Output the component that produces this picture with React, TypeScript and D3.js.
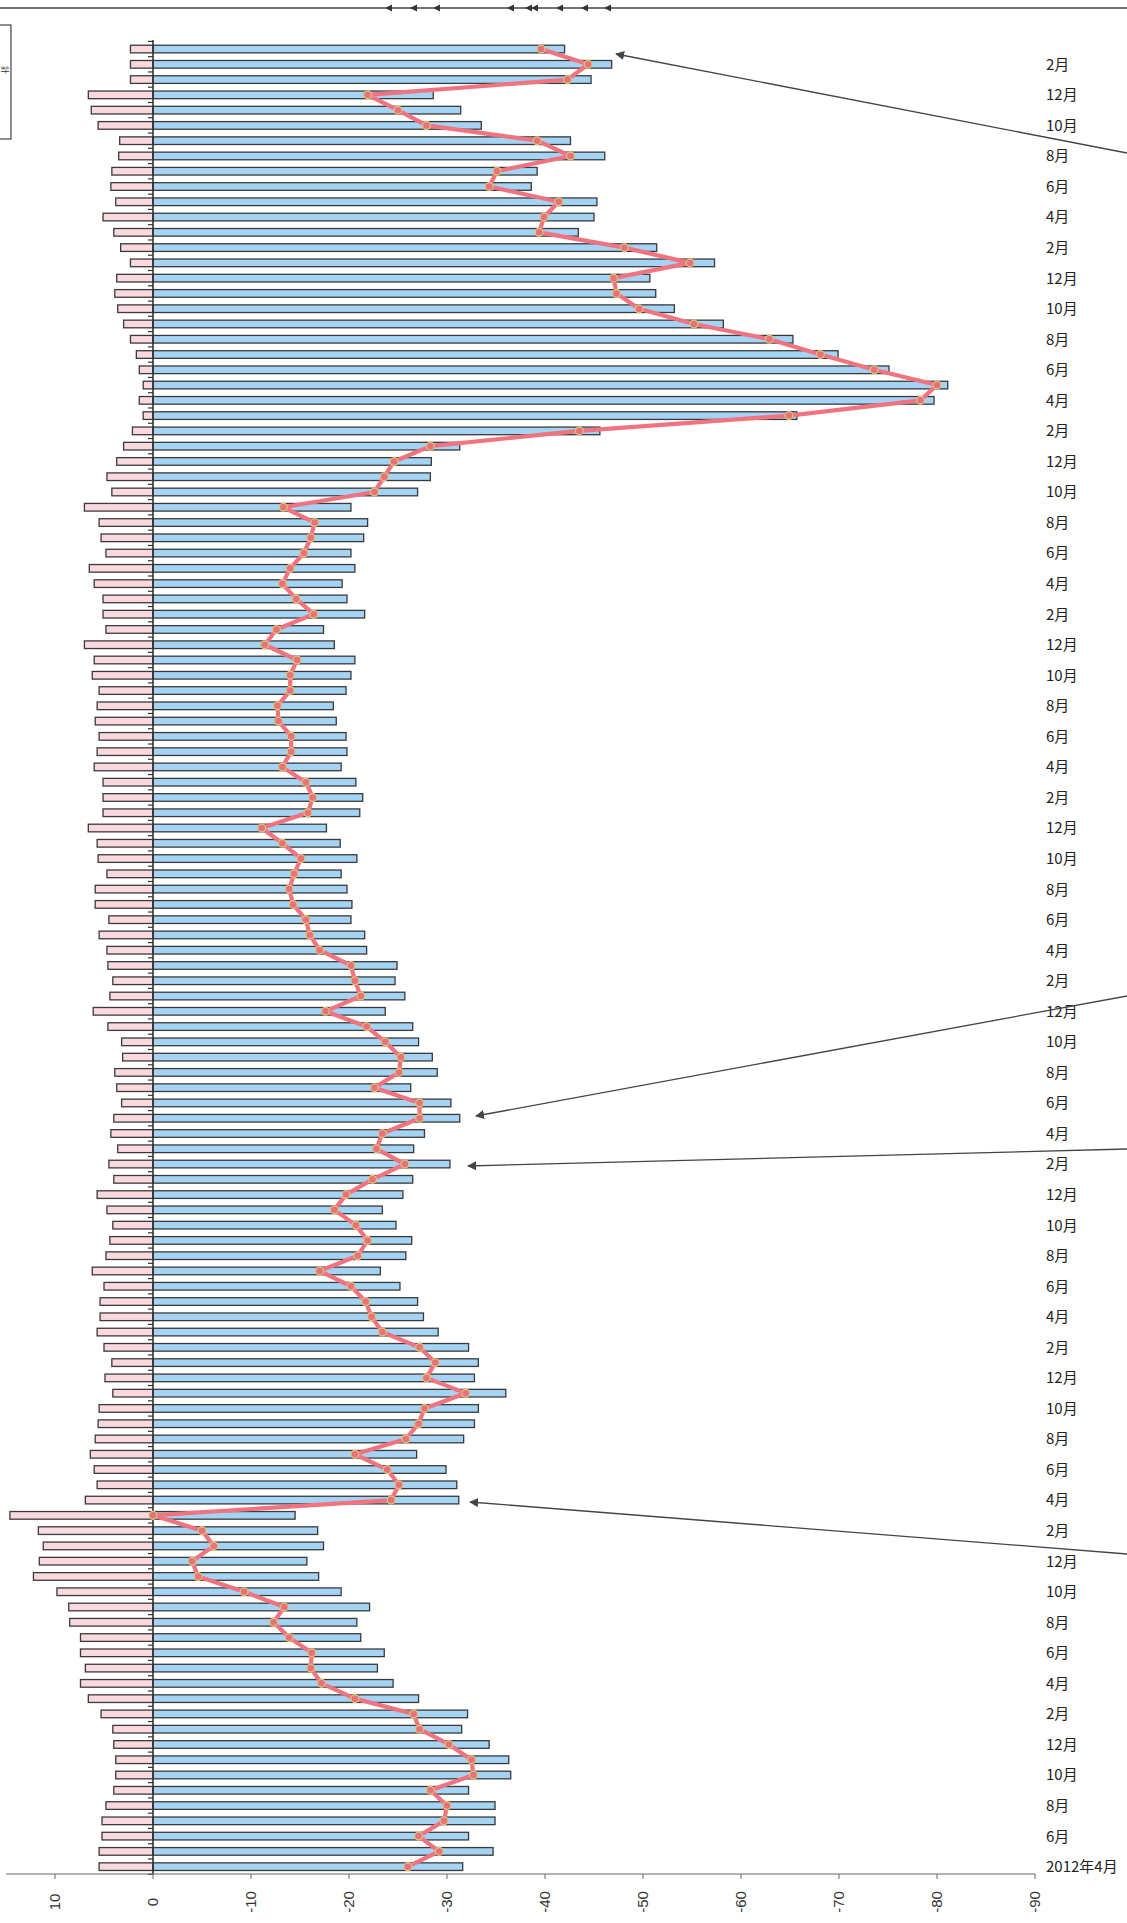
import { useEffect, useRef } from "react";
import * as d3 from "d3";

const WIDTH = 1127;
const HEIGHT = 1923;

// monthly categories: 2012年4月 .. 2022年3月
const startMonth = new Date(2012, 3, 1);
const endMonth = new Date(2022, 3, 1);

// right side labels, one every two months (from 2012年4月)
const monthLabels = [
  "2012年4月", "6月", "8月", "10月", "12月", "2月",
  "4月", "6月", "8月", "10月", "12月", "2月",
  "4月", "6月", "8月", "10月", "12月", "2月",
  "4月", "6月", "8月", "10月", "12月", "2月",
  "4月", "6月", "8月", "10月", "12月", "2月",
  "4月", "6月", "8月", "10月", "12月", "2月",
  "4月", "6月", "8月", "10月", "12月", "2月",
  "4月", "6月", "8月", "10月", "12月", "2月",
  "4月", "6月", "8月", "10月", "12月", "2月",
  "4月", "6月", "8月", "10月", "12月", "2月",
];

const valueTicks = [10, 0, -10, -20, -30, -40, -50, -60, -70, -80, -90];

// pink bars (positive side), oldest first
const plusValues = [
  5.5, 5.5, 5.2, 5.2, 4.8, 4.0, 3.8, 3.8, 4.0, 4.1,
  5.3, 6.6, 7.4, 6.9, 7.4, 7.4, 8.5, 8.6, 9.8, 12.2,
  11.6, 11.2, 11.7, 14.6, 6.9, 5.7, 6.0, 6.4, 5.9, 5.6,
  5.5, 4.1, 4.9, 4.2, 5.0, 5.7, 5.4, 5.4, 5.0, 6.2,
  4.8, 4.4, 4.1, 4.7, 5.7, 4.0, 4.5, 3.6, 4.3, 4.0,
  3.2, 3.7, 3.9, 3.1, 3.2, 4.6, 6.1, 4.4, 4.1, 4.6,
  4.7, 5.5, 4.5, 5.9, 5.9, 4.7, 5.6, 5.7, 6.6, 5.1,
  5.1, 5.1, 6.0, 5.7, 5.5, 5.9, 5.7, 5.5, 6.2, 6.0,
  7.0, 4.8, 5.1, 5.1, 6.0, 6.5, 4.8, 5.3, 5.5, 7.0,
  4.2, 4.7, 3.7, 3.0, 2.1, 1.0, 1.4, 1.0, 1.4, 1.7,
  2.3, 3.0, 3.6, 3.9, 3.7, 2.3, 3.3, 4.0, 5.1, 3.8,
  4.3, 4.2, 3.5, 3.4, 5.6, 6.3, 6.6, 2.3, 2.3, 2.3,
];

// blue bars (negative side), oldest first
const minusValues = [
  -31.6, -34.7, -32.2, -34.9, -34.9, -32.2, -36.5, -36.3, -34.3, -31.5,
  -32.1, -27.1, -24.5, -22.9, -23.6, -21.2, -20.8, -22.1, -19.2, -16.9,
  -15.7, -17.4, -16.8, -14.5, -31.2, -31.0, -29.9, -26.9, -31.7, -32.8,
  -33.2, -36.0, -32.8, -33.2, -32.2, -29.1, -27.6, -27.0, -25.2, -23.2,
  -25.8, -26.4, -24.8, -23.4, -25.5, -26.5, -30.3, -26.6, -27.7, -31.3,
  -30.4, -26.3, -29.0, -28.5, -27.1, -26.5, -23.7, -25.7, -24.7, -24.9,
  -21.8, -21.6, -20.2, -20.3, -19.8, -19.2, -20.8, -19.1, -17.7, -21.1,
  -21.4, -20.7, -19.2, -19.8, -19.7, -18.7, -18.4, -19.7, -20.2, -20.6,
  -18.5, -17.4, -21.6, -19.8, -19.3, -20.6, -20.2, -21.5, -21.9, -20.2,
  -27.0, -28.3, -28.4, -31.3, -45.6, -65.7, -79.7, -81.1, -75.1, -69.9,
  -65.3, -58.2, -53.2, -51.3, -50.7, -57.3, -51.4, -43.4, -45.0, -45.3,
  -38.6, -39.2, -46.1, -42.6, -33.5, -31.4, -28.6, -44.7, -46.8, -42.0,
];

// red line (balance), oldest first
const netValues = [
  -26.0, -29.2, -27.1, -29.7, -30.0, -28.3, -32.7, -32.5, -30.2, -27.2,
  -26.6, -20.6, -17.2, -16.1, -16.2, -13.9, -12.3, -13.4, -9.3, -4.6,
  -4.0, -6.2, -5.0, 0.0, -24.3, -25.1, -23.9, -20.6, -25.8, -27.1,
  -27.7, -31.9, -27.9, -28.8, -27.2, -23.4, -22.3, -21.7, -20.2, -17.0,
  -20.9, -21.9, -20.7, -18.5, -19.7, -22.4, -25.7, -22.8, -23.4, -27.2,
  -27.2, -22.6, -25.1, -25.3, -23.7, -21.8, -17.6, -21.2, -20.6, -20.2,
  -17.0, -16.0, -15.6, -14.3, -13.9, -14.4, -15.1, -13.2, -11.1, -15.8,
  -16.3, -15.6, -13.2, -14.1, -14.1, -12.8, -12.7, -14.0, -14.0, -14.7,
  -11.4, -12.6, -16.4, -14.6, -13.2, -14.0, -15.4, -16.1, -16.5, -13.3,
  -22.6, -23.6, -24.6, -28.3, -43.5, -64.9, -78.3, -80.0, -73.6, -68.1,
  -62.9, -55.2, -49.6, -47.3, -47.0, -54.8, -48.1, -39.4, -39.9, -41.4,
  -34.3, -35.1, -42.6, -39.2, -27.9, -25.0, -21.9, -42.3, -44.4, -39.6,
];

// annotation arrows coming in from the right edge (pixel positions)
const annotationArrows = [
  { from: [1127, 153], to: [616, 54] },
  { from: [1127, 996], to: [476, 1116] },
  { from: [1127, 1149], to: [468, 1166] },
  { from: [1127, 1554], to: [470, 1502] },
];
// small arrow heads on the rule at the very top
const topArrowX = [385, 410, 433, 507, 525, 531, 556, 581, 604];

interface IRow {
  key: string;
  plus: number;
  minus: number;
  net: number;
}

function Chart() {
  const ref = useRef<SVGSVGElement>(null);

  useEffect(() => {
    const svg = d3.select(ref.current);
    svg.selectAll("*").remove();

    const keys = d3.timeMonth.range(startMonth, endMonth).map(d3.timeFormat("%Y-%m"));
    const rows: IRow[] = keys.map((key, i) => ({
      key,
      plus: plusValues[i],
      minus: minusValues[i],
      net: netValues[i],
    }));

    const xScale = d3.scaleLinear().domain([15, -90]).range([6, 1035]);
    const yScale = d3
      .scaleBand<string>()
      .domain(keys.slice().reverse())
      .range([41.4, 1874.3])
      .paddingInner(0.5)
      .paddingOuter(0.25);
    const bw = yScale.bandwidth();
    const step = yScale.step();
    const cy = (k: string) => (yScale(k) as number) + bw / 2;
    const x0 = xScale(0);
    const axisY = 1874;

    svg.append("rect").attr("width", WIDTH).attr("height", HEIGHT).attr("fill", "#ffffff");

    // top rule with arrow heads
    svg
      .append("line")
      .attr("x1", 0)
      .attr("x2", WIDTH)
      .attr("y1", 8)
      .attr("y2", 8)
      .attr("stroke", "#444")
      .attr("stroke-width", 1.3);
    svg
      .selectAll(".topHead")
      .data(topArrowX)
      .join("path")
      .attr("d", (d) => `M${d},8 L${d + 7},4.5 L${d + 7},11.5 Z`)
      .attr("fill", "#333");

    // legend box (cut at the left edge)
    svg
      .append("rect")
      .attr("x", -2)
      .attr("y", 25)
      .attr("width", 13)
      .attr("height", 114)
      .attr("fill", "none")
      .attr("stroke", "#444")
      .attr("stroke-width", 1.2);
    svg
      .append("text")
      .attr("transform", "translate(5,70) rotate(90)")
      .attr("text-anchor", "middle")
      .attr("dy", "0.35em")
      .attr("font-family", "'Noto Sans CJK JP'")
      .attr("font-size", 8)
      .attr("fill", "#333")
      .text("計");

    // bars
    const bars = svg.append("g");
    bars
      .selectAll(".plus")
      .data(rows)
      .join("rect")
      .attr("x", (d) => xScale(d.plus))
      .attr("y", (d) => yScale(d.key) as number)
      .attr("width", (d) => x0 - xScale(d.plus))
      .attr("height", bw)
      .attr("fill", "#f9d9de")
      .attr("stroke", "#3a3a3a")
      .attr("stroke-width", 1.3);
    bars
      .selectAll(".minus")
      .data(rows)
      .join("rect")
      .attr("x", x0)
      .attr("y", (d) => yScale(d.key) as number)
      .attr("width", (d) => xScale(d.minus) - x0)
      .attr("height", bw)
      .attr("fill", "#a5d3f4")
      .attr("stroke", "#3a3a3a")
      .attr("stroke-width", 1.3);

    // category axis at zero with ticks between months
    const catAxis = svg.append("g");
    catAxis
      .append("line")
      .attr("x1", x0)
      .attr("x2", x0)
      .attr("y1", 40)
      .attr("y2", axisY)
      .attr("stroke", "#333")
      .attr("stroke-width", 1.6);
    const bounds = keys.map((k) => cy(k) + step / 2).concat([cy(keys[keys.length - 1]) - step / 2]);
    catAxis
      .selectAll(".ctick")
      .data(bounds)
      .join("line")
      .attr("x1", x0 - 5)
      .attr("x2", x0)
      .attr("y1", (d) => d)
      .attr("y2", (d) => d)
      .attr("stroke", "#333")
      .attr("stroke-width", 1.2);

    // month labels on the right
    svg
      .append("g")
      .selectAll("text")
      .data(monthLabels)
      .join("text")
      .attr("x", 1046)
      .attr("y", (_, i) => cy(keys[i * 2]))
      .attr("dy", "0.36em")
      .attr("font-family", "'Noto Sans CJK JP', 'Noto Sans'")
      .attr("font-size", 15)
      .attr("fill", "#222")
      .text((d) => d);

    // value axis at the bottom
    const valAxis = svg.append("g");
    valAxis
      .append("line")
      .attr("x1", xScale(15))
      .attr("x2", xScale(-90))
      .attr("y1", axisY)
      .attr("y2", axisY)
      .attr("stroke", "#666")
      .attr("stroke-width", 1);
    valAxis
      .selectAll(".vtick")
      .data(valueTicks)
      .join("line")
      .attr("x1", (d) => xScale(d))
      .attr("x2", (d) => xScale(d))
      .attr("y1", axisY)
      .attr("y2", axisY + 5)
      .attr("stroke", "#666")
      .attr("stroke-width", 1);
    valAxis
      .selectAll(".vlabel")
      .data(valueTicks)
      .join("text")
      .attr("transform", (d) => `translate(${xScale(d)},1902) rotate(-90)`)
      .attr("text-anchor", "middle")
      .attr("dy", "0.36em")
      .attr("font-family", "'Liberation Sans', Arial, sans-serif")
      .attr("font-size", 15)
      .attr("fill", "#333")
      .text((d) => `${d}`);

    // balance line
    const line = d3
      .line<IRow>()
      .x((d) => xScale(d.net))
      .y((d) => cy(d.key));
    svg
      .append("path")
      .datum(rows)
      .attr("fill", "none")
      .attr("stroke", "#f0737f")
      .attr("stroke-width", 4.2)
      .attr("stroke-linejoin", "round")
      .attr("d", line);
    svg
      .append("g")
      .selectAll("circle")
      .data(rows)
      .join("circle")
      .attr("cx", (d) => xScale(d.net))
      .attr("cy", (d) => cy(d.key))
      .attr("r", 3.9)
      .attr("fill", "#e9707c")
      .attr("stroke", "#d9c676")
      .attr("stroke-width", 1.3);

    // annotation arrows
    const defs = svg.append("defs");
    defs
      .append("marker")
      .attr("id", "ahead")
      .attr("viewBox", "0 0 10 10")
      .attr("refX", 9)
      .attr("refY", 5)
      .attr("markerWidth", 9)
      .attr("markerHeight", 9)
      .attr("markerUnits", "userSpaceOnUse")
      .attr("orient", "auto")
      .append("path")
      .attr("d", "M0,0 L10,5 L0,10 Z")
      .attr("fill", "#444");
    svg
      .append("g")
      .selectAll("line")
      .data(annotationArrows)
      .join("line")
      .attr("x1", (d) => d.from[0])
      .attr("y1", (d) => d.from[1])
      .attr("x2", (d) => d.to[0])
      .attr("y2", (d) => d.to[1])
      .attr("stroke", "#444")
      .attr("stroke-width", 1.3)
      .attr("marker-end", "url(#ahead)");
  }, []);

  return (
    <svg
      ref={ref}
      width={WIDTH}
      height={HEIGHT}
      style={{ position: "absolute", left: 0, top: 0, display: "block" }}
    />
  );
}

export default function App() {
  return <Chart />;
}
